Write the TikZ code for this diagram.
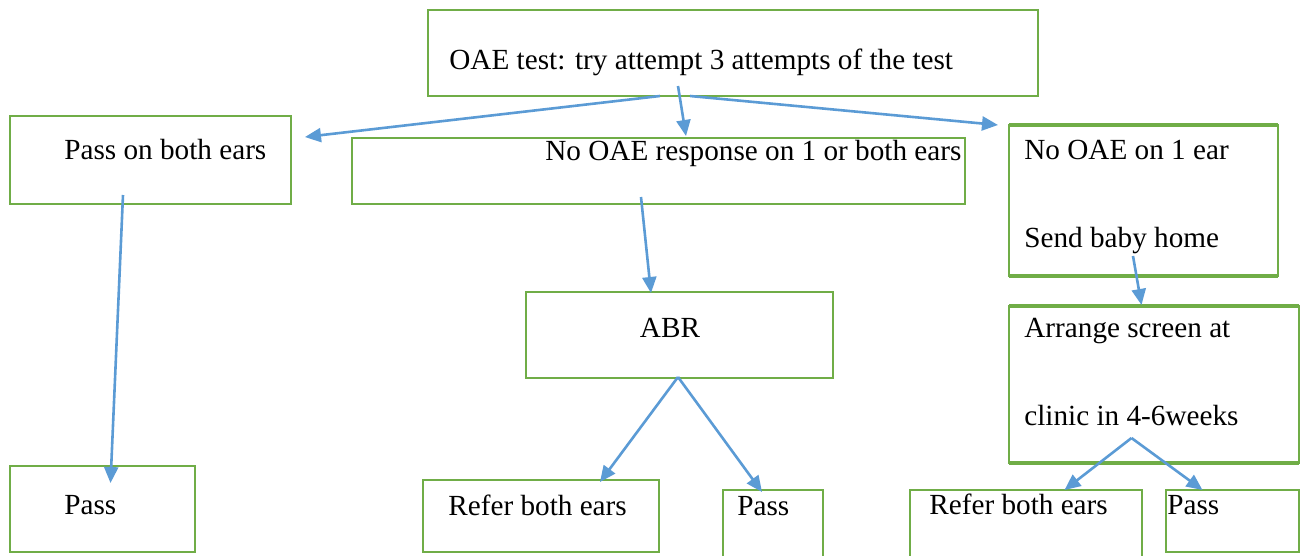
\documentclass[tikz,border=0pt]{standalone}
\usepackage{fontspec}
\setmainfont{Liberation Serif}
\usetikzlibrary{calc,arrows.meta}
\definecolor{boxgreen}{HTML}{70AD47}
\definecolor{arrowblue}{HTML}{5B9BD5}

\begin{document}
\begin{tikzpicture}[x=0.5pt, y=-0.5pt,
box/.style={draw=boxgreen, line width=1pt, anchor=north west, inner sep=0pt, outer sep=0pt},
rim/.style={draw=boxgreen, line width=2pt},
txt/.style={anchor=base west, inner sep=0pt, font=\fontsize{14.6}{17.5}\selectfont},
arr/.style={draw=arrowblue, line width=1.3pt, -{Triangle[length=8pt,width=7pt]}}]
\clip (0,0) rectangle (1306,556);
% boxes
\node[box, minimum width=305pt, minimum height=43pt] (test) at (428,10) {};
\node[box, minimum width=140.5pt, minimum height=44pt] (bothpass) at (10,116) {};
\node[box, minimum width=306.5pt, minimum height=33pt] (noresp) at (352,138) {};
\node[box, minimum width=134.5pt, minimum height=75.5pt] (oneear) at (1009,125) {};
\node[box, minimum width=153.5pt, minimum height=43pt] (abr) at (526,292) {};
\node[box, minimum width=145pt, minimum height=78.5pt] (clinic) at (1009,306) {};
\node[box, minimum width=92.5pt, minimum height=43pt] (pass1) at (10,466) {};
\node[box, minimum width=118pt, minimum height=36pt] (refer1) at (423,480) {};
\node[box, minimum width=50pt, minimum height=40pt] (pass2) at (723,490) {};
\node[box, minimum width=116pt, minimum height=40pt] (refer2) at (910,490) {};
\node[box, minimum width=66.5pt, minimum height=31pt] (pass3) at (1166,490) {};
\draw[rim] (oneear.north west) -- (oneear.north east);
\draw[rim] (oneear.south west) -- (oneear.south east);
\draw[rim] (clinic.north west) -- (clinic.north east);
\draw[rim] (clinic.south west) -- (clinic.south east);
% texts
\node[txt] (test-t) at (449,70) {OAE test: try attempt 3 attempts of the test};
\node[txt] (bothpass-t) at (64,159) {Pass on both ears};
\node[txt] (noresp-t) at (545,161) {No OAE response on 1 or both ears};
\node[txt] (oneear-t) at (1024,159) {No OAE on 1 ear};
\node[txt] (home-t) at (1024,247) {Send baby home};
\node[txt, anchor=base] (abr-t) at (670,337) {ABR};
\node[txt] (clinic-t) at (1024,337) {Arrange screen at};
\node[txt] (weeks-t) at (1024,425) {clinic in 4-6weeks};
\node[txt] (pass1-t) at (64,514) {Pass};
\node[txt] (refer1-t) at (448,515) {Refer both ears};
\node[txt] (pass2-t) at (737,515) {Pass};
\node[txt] (refer2-t) at (929,514) {Refer both ears};
\node[txt] (pass3-t) at (1167,514) {Pass};
% arrows
\draw[arr] ($(test.south)+(-73,0)$) -- ($(bothpass.east)+(14,-23)$);
\draw[arr] ($(test.south)+(-55,-10)$) -- ($(noresp.north)+(27.5,-2)$);
\draw[arr] ($(test.south)+(-43,0)$) -- ($(oneear.north west)+(-11,0)$);
\draw[arr] ($(bothpass.south)+(-27.5,-9)$) -- ($(pass1.north)+(8,17)$);
\draw[arr] ($(noresp.south)+(-17.5,-7)$) -- ($(abr.north)+(-28.5,1)$);
\draw[arr] ($(abr.south)+(-1.5,-1)$) -- ($(refer1.north)+(59,2)$);
\draw[arr] ($(abr.south)+(-1.5,-1)$) -- ($(pass2.north)+(-11,2)$);
\draw[arr] ($(oneear.south)+(-10.5,-20)$) -- ($(clinic.north)+(-12.5,-1)$);
\draw[arr] ($(clinic.south)+(-22.5,-25)$) -- ($(refer2.north)+(38.5,0)$);
\draw[arr] ($(clinic.south)+(-22.5,-25)$) -- ($(pass3.north)+(-30,0)$);
\end{tikzpicture}
\end{document}
